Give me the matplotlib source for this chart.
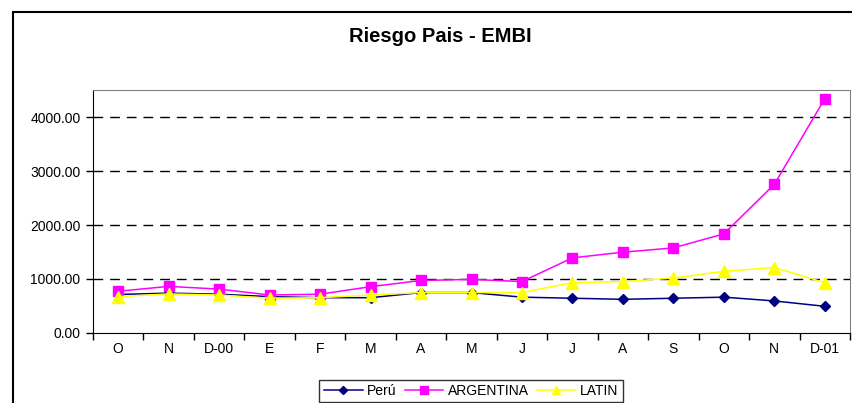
import matplotlib
matplotlib.use("Agg")
import matplotlib.pyplot as plt
from matplotlib.patches import Rectangle
from matplotlib.ticker import FormatStrFormatter

plt.rcParams['font.family'] = ['Liberation Sans', 'DejaVu Sans']

meses = ['O', 'N', 'D-00', 'E', 'F', 'M', 'A', 'M', 'J', 'J', 'A', 'S', 'O', 'N', 'D-01']
peru = [710, 735, 715, 670, 650, 650, 745, 745, 660, 640, 620, 640, 660, 590, 490]
argentina = [770, 860, 810, 700, 715, 855, 970, 990, 950, 1390, 1495, 1575, 1835, 2755, 4345]
latin = [670, 720, 700, 640, 650, 700, 745, 745, 745, 930, 950, 1015, 1140, 1210, 930]

W, H = 853, 403
fig = plt.figure(figsize=(W / 100, H / 100), dpi=100)
ax = fig.add_axes([93 / W, 1 - 332.7 / H, 757 / W, 242.3 / H])

x = range(len(meses))
ax.plot(x, peru, color='#000080', lw=1.1, marker='D', ms=5.5, mec='#000080', label='Perú')
ax.plot(x, argentina, color='#FF00FF', lw=1.1, marker='s', ms=6.5, mec='#FF00FF', label='ARGENTINA')
ax.plot(x, latin, color='#FFFF00', lw=1.1, marker='^', ms=8, mec='#FFFF00', label='LATIN')

ax.set_xlim(-0.5, len(meses) - 0.5)
ax.set_ylim(0, 4500)
ax.set_yticks([0, 1000, 2000, 3000, 4000])
ax.yaxis.set_major_formatter(FormatStrFormatter('%.2f'))
ax.set_xticks(list(x))
ax.set_xticklabels(meses)
ax.set_xticks([i + 0.5 for i in range(-1, len(meses))], minor=True)
ax.tick_params(axis='x', which='major', length=0, pad=7, labelsize=10)
ax.tick_params(axis='x', which='minor', length=5, width=1, direction='out')
ax.tick_params(axis='y', length=5, width=1, pad=4, labelsize=10)

for v in [1000, 2000, 3000, 4000]:
    ax.axhline(v, color='black', lw=1, ls=(0, (7, 5)), zorder=0)

ax.spines['top'].set_color('#808080')
ax.spines['right'].set_color('#808080')
ax.spines['left'].set_color('black')
ax.spines['bottom'].set_color('black')

fig.text(440 / W, 1 - 37 / H, 'Riesgo Pais - EMBI', ha='center', va='center',
         fontsize=14.5, fontweight='bold')

fig.patches.append(Rectangle((13 / W, -0.1), 2, 1.1 - 12 / H, transform=fig.transFigure,
                             fill=False, ec='black', lw=1.5))

leg = fig.legend(loc='upper center', bbox_to_anchor=(471 / W, 1 - 380 / H), ncol=3,
                 fontsize=10, frameon=True, fancybox=False, edgecolor='black',
                 handlelength=2.8, handletextpad=0.3, columnspacing=0.6,
                 borderpad=0.3, borderaxespad=0, markerscale=0.8)
leg.get_frame().set_linewidth(1)

fig.savefig('out.png', dpi=100)
